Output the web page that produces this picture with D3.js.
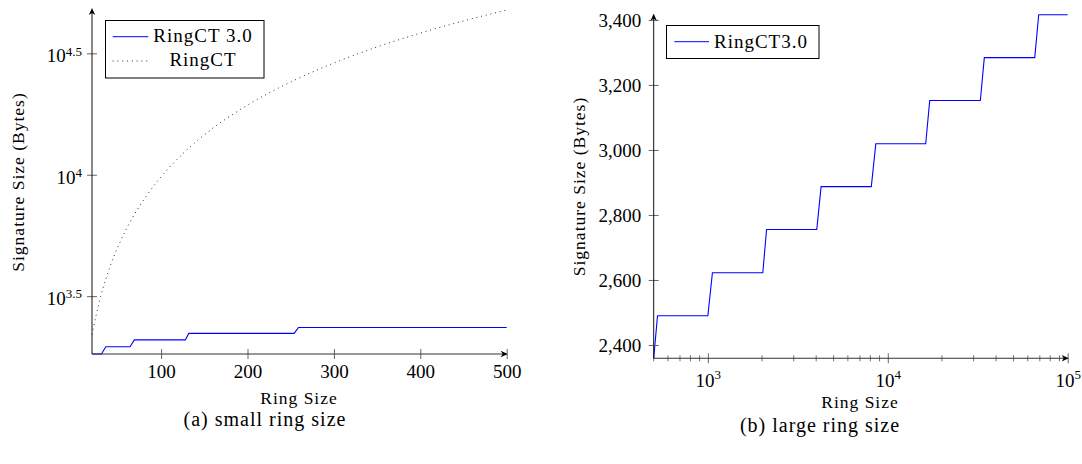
<!DOCTYPE html>
<html>
<head>
<meta charset="utf-8">
<script src="https://cdn.jsdelivr.net/npm/d3@7"></script>
<style>
body { margin: 0; background: #fff; }
svg text { font-family: "Liberation Serif", "DejaVu Serif", "Noto Serif", serif !important; fill: #000; }
.lbl { letter-spacing: 1px; }
</style>
</head>
<body>
<script>
var width = 1082,
    height = 464;

// (a) small ring size
var smallSizes    = [20, 31, 36, 64, 69, 128, 132, 254, 259, 500];
var smallRingCT3  = [1827, 1827, 1956, 1956, 2088, 2088, 2221, 2221, 2350, 2350];
var ringCTSizes   = [20, 30, 40, 60, 80, 100, 125, 150, 200, 250, 300, 350, 400, 450, 500];
var ringCT        = [2200, 3150, 4100, 6000, 7900, 9800, 12200, 14600, 19350, 24100, 28850, 33600, 38300, 43000, 47700];
var smallXTicks   = [100, 200, 300, 400, 500];
var smallYExps    = ["3.5", "4", "4.5"];

// (b) large ring size
var largeSizes    = [500, 525, 1000, 1060, 2020, 2120, 4030, 4260, 8100, 8580, 16250, 17100, 32700, 34400, 65600, 69000, 100000];
var largeRingCT3  = [2359, 2490, 2490, 2622, 2622, 2755, 2755, 2887, 2887, 3019, 3019, 3152, 3152, 3284, 3284, 3416, 3416];
var largeXExps    = [3, 4, 5];
var largeYTicks   = [2400, 2600, 2800, 3000, 3200, 3400];

var svg = d3.select("body").append("svg")
    .attr("width", width)
    .attr("height", height);

var xa = d3.scaleLinear().domain([20, 500]).range([92, 506.7]);
var ya = d3.scaleLog().domain([1827, 47700]).range([354, 10]);
var xb = d3.scaleLog().domain([500, 1e5]).range([653.7, 1067.7]);
var yb = d3.scaleLinear().domain([2359, 3416]).range([358.3, 14.7]);

function arrow(g, x, y, angle) {
  g.append("path")
    .attr("d", "M0,0 L-7,-3.2 L-5,0 L-7,3.2 Z")
    .attr("transform", "translate(" + x + "," + y + ") rotate(" + angle + ")")
    .attr("fill", "#000");
}

function supLabel(sel, base, exp, dy) {
  sel.text("");
  sel.append("tspan").text(base);
  sel.append("tspan").attr("dy", dy).style("font-size", "13px").text(exp);
}

// ---------- left panel ----------
var ga = svg.append("g");

var lineA = d3.line()
  .x(function(d) { return xa(d[0]); })
  .y(function(d) { return ya(d[1]); });

ga.append("path")
    .datum(d3.zip(ringCTSizes, ringCT))
    .attr("d", lineA.curve(d3.curveMonotoneX))
    .attr("fill", "none")
    .attr("stroke", "#000")
    .attr("stroke-width", 0.9)
    .attr("stroke-dasharray", "0.9,3.9");

lineA.curve(d3.curveLinear);
ga.append("path")
    .datum(d3.zip(smallSizes, smallRingCT3))
    .attr("d", lineA)
    .attr("fill", "none")
    .attr("stroke", "#0000ff")
    .attr("stroke-width", 1.1);

var axA = ga.append("g")
    .attr("transform", "translate(0," + ya.range()[0] + ")")
    .call(d3.axisBottom(xa).tickValues(smallXTicks).tickSize(5));
axA.select(".domain").remove();
axA.selectAll(".tick line").attr("y1", -5).attr("y2", 5).attr("stroke", "#666");
axA.selectAll(".tick text")
    .attr("y", 24).attr("dy", null)
    .style("font-size", "19px");

var ayA = ga.append("g")
    .attr("transform", "translate(" + xa.range()[0] + ",0)")
    .call(d3.axisLeft(ya).tickValues(smallYExps.map(function(e) { return Math.pow(10, +e); })).tickSize(5));
ayA.select(".domain").remove();
ayA.selectAll(".tick line").attr("x1", -5).attr("x2", 5).attr("stroke", "#666");
ayA.selectAll(".tick text")
    .attr("x", -10).attr("dy", null).attr("y", 8.4)
    .style("font-size", "19px")
    .each(function(d, i) { supLabel(d3.select(this), "10", smallYExps[i], -6.7); });

ga.append("line")
    .attr("x1", xa.range()[0]).attr("x2", xa.range()[1])
    .attr("y1", ya.range()[0]).attr("y2", ya.range()[0])
    .attr("stroke", "#333").attr("stroke-width", 1.1);
ga.append("line")
    .attr("x1", xa.range()[0]).attr("x2", xa.range()[0])
    .attr("y1", ya.range()[0]).attr("y2", ya.range()[1])
    .attr("stroke", "#111").attr("stroke-width", 1);
arrow(ga, xa.range()[1] + 1, ya.range()[0], 0);
arrow(ga, xa.range()[0], ya.range()[1] - 2, -90);

// legend
var legA = ga.append("g");
legA.append("rect")
    .attr("x", 105.5).attr("y", 20.5).attr("width", 158.5).attr("height", 57.5)
    .attr("fill", "#fff").attr("stroke", "#000").attr("stroke-width", 1);
legA.append("line")
    .attr("x1", 112.7).attr("x2", 148.3).attr("y1", 36.7).attr("y2", 36.7)
    .attr("stroke", "#0000ff").attr("stroke-width", 1);
legA.append("line")
    .attr("x1", 112.7).attr("x2", 148.3).attr("y1", 61).attr("y2", 61)
    .attr("stroke", "#000").attr("stroke-width", 0.9).attr("stroke-dasharray", "0.9,3.9");
legA.append("text").attr("class", "lbl")
    .attr("x", 203).attr("y", 42).attr("text-anchor", "middle")
    .style("font-size", "19px").text("RingCT 3.0");
legA.append("text").attr("class", "lbl")
    .attr("x", 203).attr("y", 66).attr("text-anchor", "middle")
    .style("font-size", "19px").text("RingCT");

ga.append("text").attr("class", "lbl")
    .attr("x", 299).attr("y", 404).attr("text-anchor", "middle")
    .style("font-size", "17.5px").text("Ring Size");
ga.append("text").attr("class", "lbl")
    .attr("transform", "translate(24," + ((ya.range()[0] + ya.range()[1]) / 2) + ") rotate(-90)")
    .attr("text-anchor", "middle")
    .style("font-size", "17.5px").text("Signature Size (Bytes)");
ga.append("text").attr("class", "lbl")
    .attr("x", 265).attr("y", 426).attr("text-anchor", "middle")
    .style("font-size", "20px").text("(a) small ring size");

// ---------- right panel ----------
var gb = svg.append("g");

var lineB = d3.line()
  .x(function(d) { return xb(d[0]); })
  .y(function(d) { return yb(d[1]); });

gb.append("path")
    .datum(d3.zip(largeSizes, largeRingCT3))
    .attr("d", lineB)
    .attr("fill", "none")
    .attr("stroke", "#0000ff")
    .attr("stroke-width", 1.1);

var minorB = [];
[100, 1000, 10000].forEach(function(p) {
  for (var k = 2; k <= 9; k++) if (k * p >= 500 && k * p < 1e5) minorB.push(k * p);
});

gb.selectAll(".minor")
    .data(minorB)
  .enter().append("line")
    .attr("class", "minor")
    .attr("x1", function(d) { return xb(d); }).attr("x2", function(d) { return xb(d); })
    .attr("y1", yb.range()[0] - 3).attr("y2", yb.range()[0] + 3)
    .attr("stroke", "#666").attr("stroke-width", 0.9);

var axB = gb.append("g")
    .attr("transform", "translate(0," + yb.range()[0] + ")")
    .call(d3.axisBottom(xb).tickValues(largeXExps.map(function(e) { return Math.pow(10, e); })).tickSize(5));
axB.select(".domain").remove();
axB.selectAll(".tick line").attr("y1", -5).attr("y2", 5).attr("stroke", "#666");
axB.selectAll(".tick text")
    .attr("y", 28.4).attr("dy", null)
    .style("font-size", "19px")
    .each(function(d, i) { supLabel(d3.select(this), "10", largeXExps[i], -8); });

var ayB = gb.append("g")
    .attr("transform", "translate(" + xb.range()[0] + ",0)")
    .call(d3.axisLeft(yb).tickValues(largeYTicks).tickSize(5).tickFormat(d3.format(",")));
ayB.select(".domain").remove();
ayB.selectAll(".tick line").attr("x1", -5).attr("x2", 5).attr("stroke", "#666");
ayB.selectAll(".tick text")
    .attr("x", -12.5).attr("dy", null).attr("y", 6.5)
    .style("font-size", "19px");

gb.append("line")
    .attr("x1", xb.range()[0]).attr("x2", xb.range()[1])
    .attr("y1", yb.range()[0]).attr("y2", yb.range()[0])
    .attr("stroke", "#333").attr("stroke-width", 1.1);
gb.append("line")
    .attr("x1", xb.range()[0]).attr("x2", xb.range()[0])
    .attr("y1", yb.range()[0]).attr("y2", yb.range()[1])
    .attr("stroke", "#111").attr("stroke-width", 1);
arrow(gb, xb.range()[1] + 1, yb.range()[0], 0);
arrow(gb, xb.range()[0], yb.range()[1] - 1, -90);

var legB = gb.append("g");
legB.append("rect")
    .attr("x", 666.5).attr("y", 25.5).attr("width", 152.5).attr("height", 33)
    .attr("fill", "#fff").attr("stroke", "#000").attr("stroke-width", 1);
legB.append("line")
    .attr("x1", 674.3).attr("x2", 709).attr("y1", 41.7).attr("y2", 41.7)
    .attr("stroke", "#0000ff").attr("stroke-width", 1);
legB.append("text").attr("class", "lbl")
    .attr("x", 714).attr("y", 48.3)
    .style("font-size", "19px").text("RingCT3.0");

gb.append("text").attr("class", "lbl")
    .attr("x", 860).attr("y", 408).attr("text-anchor", "middle")
    .style("font-size", "17.5px").text("Ring Size");
gb.append("text").attr("class", "lbl")
    .attr("transform", "translate(585," + ((yb.range()[0] + yb.range()[1]) / 2) + ") rotate(-90)")
    .attr("text-anchor", "middle")
    .style("font-size", "17.5px").text("Signature Size (Bytes)");
gb.append("text").attr("class", "lbl")
    .attr("x", 820).attr("y", 432).attr("text-anchor", "middle")
    .style("font-size", "20px").text("(b) large ring size");
</script>
</body>
</html>
